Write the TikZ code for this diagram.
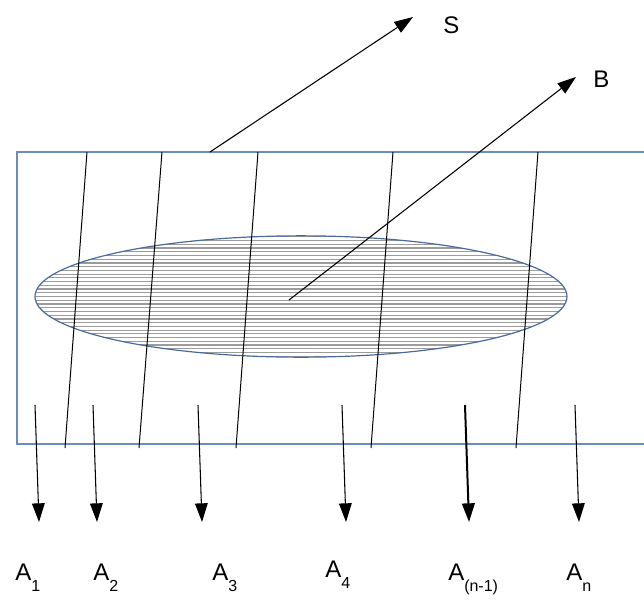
\documentclass[tikz,border=0pt]{standalone}
\usepackage{fontspec}
\setmainfont{Liberation Sans}
\usetikzlibrary{arrows.meta, shapes.geometric}
\definecolor{frame}{HTML}{6A8DBE}
\definecolor{rim}{HTML}{4A6A9E}
\definecolor{hatch}{HTML}{9C9C9C}
\newcommand{\lowsub}[1]{\raisebox{-8.5pt}{\fontsize{12}{14}\selectfont #1}}

\begin{document}
\begin{tikzpicture}[x=0.75pt, y=-0.75pt,
  font=\fontsize{18}{20}\selectfont,
  wall/.style={draw=frame, line width=0.8pt},
  hatchline/.style={draw=hatch, line width=0.9pt},
  disc/.style={ellipse, draw=rim, line width=0.9pt, inner sep=0pt,
               minimum width=399pt, minimum height=91pt,
               path picture={\foreach \k in {-16,...,16}
                 \draw[hatchline] ([yshift=\k*2.8pt]path picture bounding box.west)
                   -- ([yshift=\k*2.8pt]path picture bounding box.east);}},
  field/.style={draw=black, line width=0.75pt},
  a/.style={-{Triangle[length=14pt, width=9.5pt]}, draw=black, line width=0.8pt},
  lab/.style={anchor=base west, inner sep=0pt}]
\useasboundingbox (0,0) rectangle (644,601);
\draw[wall] (644,152) -- (17,152) -- (17,444) -- (644,444);
\node[disc] (disc) at (301,296.5) {};
\foreach \t/\b in {87/65, 162/139, 258/236, 393/371, 538/516}
  \draw[field] (\t,152) -- (\b,448);
\coordinate (sfoot) at (210,152);
\coordinate (stip) at (413,17);
\coordinate (core) at (289,300);
\coordinate (btip) at (576,77);
\node[lab] (s) at (443,33) {S};
\node[lab] (b) at (593,87) {B};
\draw[a] (sfoot) -- (stip);
\draw[a] (core) -- (btip);
\foreach \n/\u/\d in {1/35/39, 2/93/97, 3/198/202, 4/342/346, n/575/579} {
  \coordinate (up\n) at (\u,405);
  \coordinate (dn\n) at (\d,522);
  \draw[a] (up\n) -- (dn\n);
}
\coordinate (upm) at (465,405);
\coordinate (dnm) at (469,522);
\draw[a, line width=1.5pt] (upm) -- (dnm);
\node[lab] (a1) at (15,580) {A\lowsub{1}};
\node[lab] (a2) at (93,580) {A\lowsub{2}};
\node[lab] (a3) at (212,580) {A\lowsub{3}};
\node[lab] (a4) at (325,577) {A\lowsub{4}};
\node[lab] (am) at (448,580) {A\lowsub{(n-1)}};
\node[lab] (an) at (566,580) {A\lowsub{n}};
\end{tikzpicture}
\end{document}
